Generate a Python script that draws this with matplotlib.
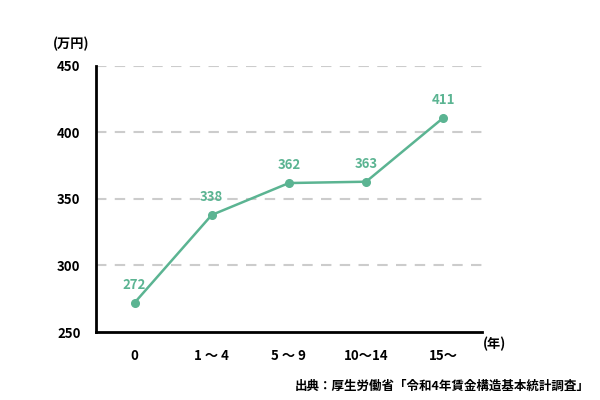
import matplotlib
matplotlib.use("Agg")
import matplotlib.pyplot as plt

categories = ["0", "1 ～ 4", "5 ～ 9", "10～14", "15～"]
values = [272, 338, 362, 363, 411]
yticks = [250, 300, 350, 400, 450]

plt.rcParams['font.family'] = ['Noto Sans CJK JP', 'DejaVu Sans']
green = "#5BB492"

fig = plt.figure(figsize=(6, 4), dpi=100)
ax = fig.add_axes([0.16, 0.17, 0.643, 0.665])
x = list(range(len(categories)))
ax.plot(x, values, color=green, lw=1.8, marker="o", ms=5.5, zorder=3)
for xi, v in zip(x, values):
    ax.annotate(str(v), (xi, v), xytext=(0, 8), textcoords="offset points",
                ha="center", va="bottom", color=green, fontsize=9.5, fontweight="bold")

ax.set_xlim(-0.5, 4.5)
ax.set_ylim(250, 450)
ax.set_yticks(yticks)
ax.set_xticks(x)
ax.set_xticklabels(categories)
for t in yticks[1:]:
    ax.axhline(t, color="#cccccc", lw=1.5, ls=(0, (5, 4)), zorder=1)
for s in ["top", "right"]:
    ax.spines[s].set_visible(False)
ax.spines["left"].set_linewidth(2)
ax.spines["bottom"].set_linewidth(2)
ax.tick_params(length=0, labelsize=9.5, pad=12)
for lab in ax.get_xticklabels() + ax.get_yticklabels():
    lab.set_fontweight("bold")
ax.tick_params(axis="y", pad=28)
for lab in ax.get_yticklabels():
    lab.set_ha("left")

fig.text(0.088, 0.89, "(万円)", fontsize=9.5, fontweight="bold", ha="left", va="center")
fig.text(0.805, 0.14, "(年)", fontsize=9.5, fontweight="bold", ha="left", va="center")
fig.text(0.983, 0.035, "出典：厚生労働省「令和4年賃金構造基本統計調査」", fontsize=9,
         fontweight="bold", ha="right", va="center")

fig.savefig("out.png", dpi=100)
